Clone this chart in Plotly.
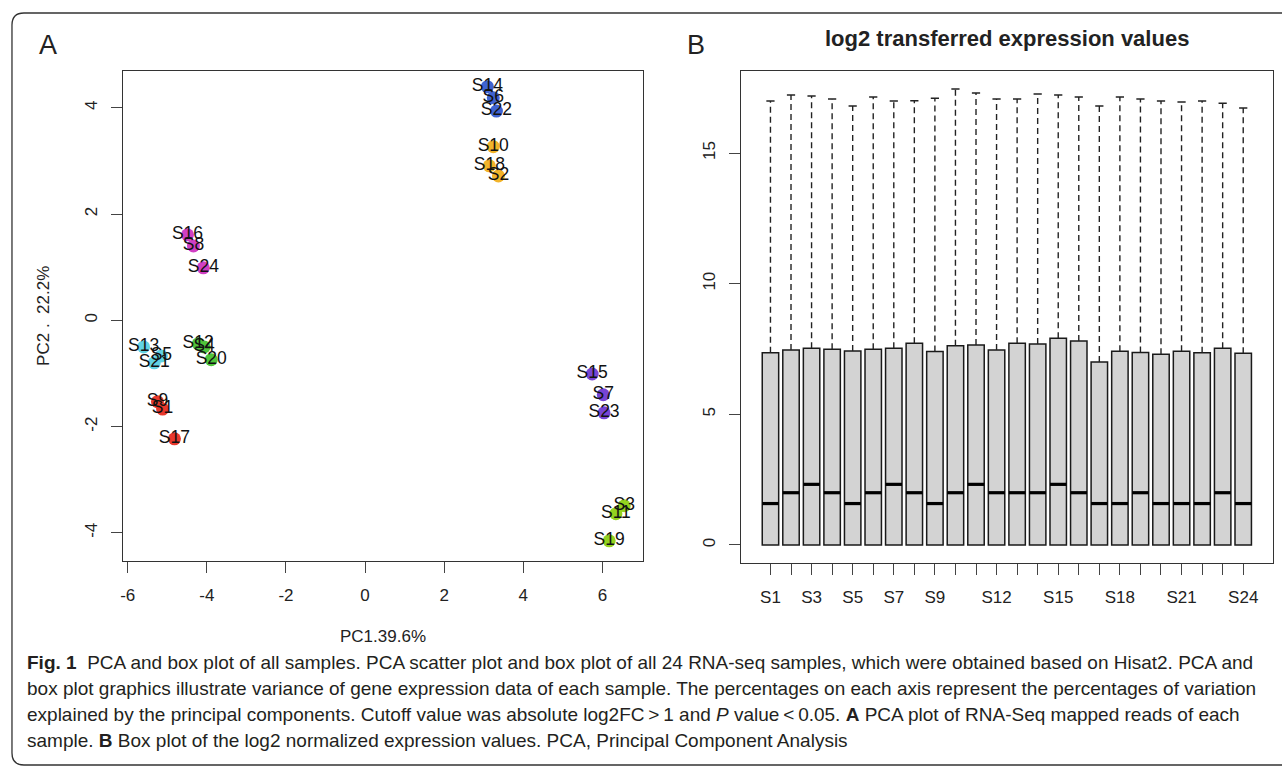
import plotly.graph_objects as go

# ---------------- data ----------------
samples = [f"S{i}" for i in range(1, 25)]
pc1 = [-5.12, 3.37, 6.55, -4.07, -5.15, 3.24, 6.02, -4.34, -5.25, 3.24, 6.34, -4.22,
       -5.60, 3.09, 5.74, -4.49, -4.82, 3.14, 6.17, -3.89, -5.33, 3.32, 6.04, -4.09]
pc2 = [-1.67, 2.72, -3.49, -0.50, -0.67, 4.19, -1.40, 1.40, -1.53, 3.27, -3.64, -0.44,
       -0.50, 4.40, -1.01, 1.61, -2.23, 2.91, -4.15, -0.74, -0.80, 3.94, -1.74, 0.99]
group_colors = ["#e8382c", "#f2b42a", "#93d21f", "#50c43b", "#62d3e3", "#3f63d1", "#7744d4", "#d03fc4"]
pc1_ticks = [-6, -4, -2, 0, 2, 4, 6]
pc1_ticktext = ["-6", "-4", "-2", "0", "2", "4", "6"]
pc2_ticks = [-4, -2, 0, 2, 4]
pc2_ticktext = ["-4", "-2", "0", "2", "4"]

box_pos = list(range(1, 25))
box_min = [0.0] * 24
box_q1 = [0.0] * 24
box_median = [1.585, 2, 2.32, 2, 1.585, 2, 2.32, 2, 1.585, 2, 2.32, 2,
              2, 2, 2.32, 2, 1.585, 1.585, 2, 1.585, 1.585, 1.585, 2, 1.585]
box_q3 = [7.36, 7.46, 7.53, 7.49, 7.42, 7.49, 7.53, 7.72, 7.40, 7.62, 7.65, 7.46,
          7.72, 7.69, 7.91, 7.81, 7.00, 7.41, 7.37, 7.30, 7.41, 7.36, 7.53, 7.34]
box_max = [16.99, 17.22, 17.18, 17.07, 16.80, 17.14, 16.99, 17.00, 17.10, 17.45, 17.30, 17.07,
           17.07, 17.26, 17.22, 17.14, 16.80, 17.14, 17.07, 16.99, 16.95, 16.99, 16.90, 16.72]
box_ticktext = ["S1", "", "S3", "", "S5", "", "S7", "", "S9", "", "", "S12",
                "", "", "S15", "", "", "S18", "", "", "S21", "", "", "S24"]
box_yticks = [0, 5, 10, 15]

caption_lines = [
    "<b>Fig. 1</b>&nbsp;&nbsp;PCA and box plot of all samples. PCA scatter plot and box plot of all 24 RNA-seq samples, which were obtained based on Hisat2. PCA and",
    "box plot graphics illustrate variance of gene expression data of each sample. The percentages on each axis represent the percentages of variation",
    "explained by the principal components. Cutoff value was absolute log2FC&#8201;&gt;&#8201;1 and <i>P</i> value&#8201;&lt;&#8201;0.05. <b>A</b> PCA plot of RNA-Seq mapped reads of each",
    "sample. <b>B</b> Box plot of the log2 normalized expression values. PCA, Principal Component Analysis",
]

W, H = 1282, 766
def px(x):
    return x / W
def py(y):
    return 1 - y / H

FONT = "Liberation Sans, Arial, sans-serif"
TXT = "#222222"
BOXW = 0.8

fig = go.Figure()

# ---------------- A: PCA ----------------
point_colors = [group_colors[(int(s[1:]) - 1) % 8] for s in samples]
fig.add_trace(go.Scatter(x=pc1, y=pc2, mode="markers", xaxis="x", yaxis="y",
                         marker=dict(size=13, color=point_colors, line=dict(width=0)),
                         hoverinfo="skip"))
fig.add_trace(go.Scatter(x=pc1, y=pc2, mode="text", text=samples, xaxis="x", yaxis="y",
                         textposition="middle center",
                         textfont=dict(family=FONT, size=17.5, color="#111111"),
                         hoverinfo="skip"))

# ---------------- B: box plot ----------------
fig.add_trace(go.Box(x=box_pos, q1=box_q1, median=box_median, q3=box_q3,
                     lowerfence=box_min, upperfence=box_q3, width=BOXW,
                     fillcolor="#d3d3d3", line=dict(color="#1a1a1a", width=1.5),
                     xaxis="x2", yaxis="y2", boxpoints=False, hoverinfo="skip"))
wx, wy, cx, cy, mx, my = [], [], [], [], [], []
for p, a, b, m in zip(box_pos, box_q3, box_max, box_median):
    wx += [p, p, None]
    wy += [a, b, None]
    cx += [p - BOXW / 4, p + BOXW / 4, None]
    cy += [b, b, None]
    mx += [p - BOXW / 2, p + BOXW / 2, None]
    my += [m, m, None]
fig.add_trace(go.Scatter(x=wx, y=wy, mode="lines", xaxis="x2", yaxis="y2",
                         line=dict(color="#222222", width=1.4, dash="6px,4px"),
                         hoverinfo="skip"))
fig.add_trace(go.Scatter(x=cx, y=cy, mode="lines", xaxis="x2", yaxis="y2",
                         line=dict(color="#222222", width=1.5), hoverinfo="skip"))
fig.add_trace(go.Scatter(x=mx, y=my, mode="lines", xaxis="x2", yaxis="y2",
                         line=dict(color="#000000", width=3.2), hoverinfo="skip"))

axis_common = dict(showline=True, mirror=True, linecolor="#333333", linewidth=1.4,
                   ticks="outside", ticklen=11, tickcolor="#444444", tickwidth=1.3,
                   showgrid=False, zeroline=False, ticklabelstandoff=7,
                   tickfont=dict(family=FONT, size=17, color=TXT))

fig.update_layout(
    width=W, height=H, autosize=False,
    margin=dict(l=0, r=0, t=0, b=0),
    paper_bgcolor="white", plot_bgcolor="white", showlegend=False,
    xaxis=dict(domain=[px(120.7), px(641.7)], range=[-6.11, 7.03],
               tickvals=pc1_ticks, ticktext=pc1_ticktext, anchor="y", **axis_common),
    yaxis=dict(domain=[py(561), py(70.7)], range=[-4.53, 4.70],
               tickvals=pc2_ticks, ticktext=pc2_ticktext, tickangle=-90, anchor="x",
               **axis_common),
    xaxis2=dict(domain=[px(740), px(1273)], range=[-0.42, 25.45],
                tickvals=box_pos, ticktext=box_ticktext, anchor="y2", **axis_common),
    yaxis2=dict(domain=[py(563), py(70.7)], range=[-0.69, 18.15],
                tickvals=box_yticks, tickangle=-90, anchor="x2", **axis_common),
)

ann = []
ann.append(dict(text="A", x=px(45), y=py(45), font=dict(family=FONT, size=27, color=TXT)))
ann.append(dict(text="B", x=px(695), y=py(45), font=dict(family=FONT, size=27, color=TXT)))
ann.append(dict(text="<b>log2 transferred expression values</b>", x=px(1006), y=py(39),
                font=dict(family=FONT, size=22, color=TXT)))
ann.append(dict(text="PC1.39.6%", x=px(381), y=py(636), font=dict(family=FONT, size=17, color=TXT)))
ann.append(dict(text="PC2 .  22.2%", x=px(40), y=py(316), textangle=-90,
                font=dict(family=FONT, size=17, color=TXT)))
for i, line in enumerate(caption_lines):
    ann.append(dict(text=line, x=px(22), y=py(662 + 26.3 * i), xanchor="left",
                    font=dict(family="Liberation Sans Narrow, Liberation Sans, sans-serif", size=19, color="#231f20")))
for a in ann:
    a.setdefault("xanchor", "center")
    a.update(xref="paper", yref="paper", yanchor="middle", showarrow=False)
fig.update_layout(annotations=ann)

# outer rounded frame (partially cut by the page edge)
def P(x, y):
    return f"{px(x):.5f},{py(y):.5f}"
frame = (f"M {P(1300, 13)} L {P(21, 13)} Q {P(9, 13)} {P(9, 25)} "
         f"L {P(9, 753)} Q {P(9, 765)} {P(21, 765)} L {P(1300, 765)}")
fig.add_shape(type="path", path=frame, xref="paper", yref="paper",
              line=dict(color="#333333", width=1.3))

fig.write_html("out.html")
